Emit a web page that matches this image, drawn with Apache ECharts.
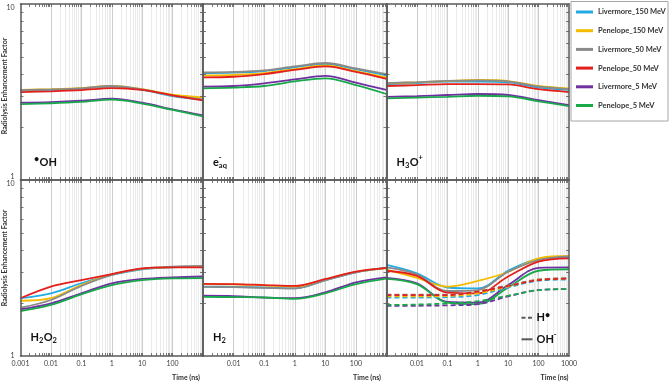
<!DOCTYPE html>
<html><head><meta charset="utf-8">
<script src="https://cdn.jsdelivr.net/npm/echarts@6/dist/echarts.min.js"></script>
<style>html,body{margin:0;padding:0;background:#fff}#c{width:669px;height:383px}</style>
</head><body><div id="c"></div>
<script>
// ---------- data ----------
const times = [0.001, 0.01, 0.1, 1, 10, 100, 1000];
const seriesNames = ['Livermore_150 MeV', 'Penelope_150 MeV', 'Livermore_50 MeV', 'Penelope_50 MeV', 'Livermore_5 MeV', 'Penelope_5 MeV'];
const xTickLabels = ['0.001', '0.01', '0.1', '1', '10', '100', '1000'];
const yTickLabels = ['1', '10'];

// order of rows: Livermore_150, Penelope_150, Livermore_50, Penelope_50, Livermore_5, Penelope_5
const ohValues = [
  [3.22, 3.25, 3.31, 3.39, 3.25, 3.00, 2.85],
  [3.25, 3.28, 3.33, 3.42, 3.28, 3.05, 2.95],
  [3.24, 3.27, 3.32, 3.42, 3.27, 3.02, 2.87],
  [3.16, 3.19, 3.24, 3.33, 3.25, 3.03, 2.83],
  [2.75, 2.77, 2.82, 2.90, 2.75, 2.52, 2.33],
  [2.70, 2.73, 2.78, 2.86, 2.72, 2.50, 2.30]
];
const eaqValues = [
  [4.04, 4.07, 4.16, 4.37, 4.56, 4.25, 3.93],
  [3.93, 3.96, 4.05, 4.27, 4.48, 4.15, 3.83],
  [4.08, 4.11, 4.20, 4.42, 4.62, 4.30, 4.00],
  [3.83, 3.86, 4.00, 4.22, 4.42, 4.12, 3.76],
  [3.39, 3.42, 3.54, 3.73, 3.90, 3.57, 3.25],
  [3.32, 3.35, 3.42, 3.63, 3.78, 3.46, 3.08]
];
const h3oValues = [
  [3.51, 3.55, 3.62, 3.62, 3.59, 3.36, 3.25],
  [3.54, 3.59, 3.65, 3.70, 3.65, 3.42, 3.31],
  [3.55, 3.60, 3.66, 3.68, 3.63, 3.40, 3.28],
  [3.42, 3.46, 3.51, 3.51, 3.49, 3.28, 3.16],
  [2.97, 3.00, 3.04, 3.08, 3.04, 2.84, 2.66],
  [2.91, 2.94, 2.97, 3.01, 2.99, 2.80, 2.63]
];
const h2o2Values = [
  [2.13, 2.27, 2.59, 2.89, 3.11, 3.19, 3.22],
  [2.06, 2.13, 2.53, 2.91, 3.13, 3.20, 3.22],
  [1.88, 2.08, 2.50, 2.89, 3.13, 3.22, 3.25],
  [2.13, 2.48, 2.70, 2.92, 3.15, 3.19, 3.19],
  [1.84, 1.99, 2.27, 2.59, 2.74, 2.80, 2.83],
  [1.80, 1.95, 2.24, 2.53, 2.70, 2.76, 2.77]
];
const h2Values = [
  [2.48, 2.47, 2.45, 2.42, 2.70, 2.99, 3.18],
  [2.56, 2.55, 2.52, 2.48, 2.72, 3.01, 3.15],
  [2.47, 2.46, 2.44, 2.42, 2.69, 2.99, 3.17],
  [2.57, 2.56, 2.53, 2.50, 2.74, 3.02, 3.17],
  [2.20, 2.19, 2.15, 2.13, 2.30, 2.62, 2.80],
  [2.17, 2.16, 2.15, 2.11, 2.27, 2.56, 2.75]
];
const ohMinusValues = [
  [3.29, 2.95, 2.45, 2.42, 3.05, 3.56, 3.64],
  [3.10, 2.78, 2.48, 2.67, 3.00, 3.59, 3.70],
  [3.19, 2.91, 2.34, 2.37, 3.01, 3.51, 3.68],
  [3.05, 2.85, 2.29, 2.27, 2.83, 3.44, 3.59],
  [2.78, 2.59, 2.03, 2.01, 2.53, 3.17, 3.19],
  [2.74, 2.56, 2.01, 1.97, 2.45, 3.05, 3.11]
];
const hRadicalValues = [
  [2.15, 2.15, 2.16, 2.22, 2.45, 2.68, 2.72],
  [2.18, 2.18, 2.19, 2.27, 2.48, 2.72, 2.76],
  [2.23, 2.23, 2.23, 2.33, 2.52, 2.72, 2.77],
  [2.22, 2.22, 2.22, 2.32, 2.50, 2.70, 2.75],
  [1.93, 1.93, 1.94, 1.97, 2.18, 2.37, 2.40],
  [1.95, 1.96, 1.99, 2.05, 2.20, 2.37, 2.40]
];

// ---------- styling / layout ----------
const seriesColors = ['#22aae3', '#f4bc00', '#8a8a8a', '#e3201b', '#7030a0', '#19a94b'];
const FONT = 'Lato, "Liberation Sans", sans-serif';
const panelValues = [ohValues, eaqValues, h3oValues, h2o2Values, h2Values, ohMinusValues];
const colLeft = [20.5, 203, 386.5], colWidth = [182.5, 183.5, 182.5];
const rowTop = [4, 180], rowHeight = 176;
const AXIS_COLOR = '#595959';
const LINE_W = 1.8;

const xMinor = [];
for (let e = -3; e < 3; e++) for (let k = 2; k <= 9; k++) xMinor.push(+(k * Math.pow(10, e)).toPrecision(3));
const xMajorInner = times.slice(1, -1);
const yMinor = [2, 3, 4, 5, 6, 7, 8, 9];
const yLabelVals = [1, 10];
const xLabelRange = {3: [0, 5], 4: [1, 5], 5: [1, 6]};

const grids = [], xAxes = [], yAxes = [], series = [];
for (let p = 0; p < 6; p++) {
  const row = p < 3 ? 0 : 1, col = p % 3;
  grids.push({left: colLeft[col], top: rowTop[row], width: colWidth[col], height: rowHeight,
    containLabel: false, outerBoundsMode: 'none'});
  const lr = xLabelRange[p];
  const labelVals = lr ? times.slice(lr[0], lr[1] + 1) : [];
  const baseX = {
    type: 'log', logBase: 10, gridIndex: p, min: 0.001, max: 1000, z: 4,
    axisLine: {show: true, onZero: false, lineStyle: {color: AXIS_COLOR, width: 1.5}},
    axisTick: {show: true, inside: true, length: 3, customValues: xMinor.concat(xMajorInner),
      lineStyle: {color: AXIS_COLOR, width: 0.8}},
    splitLine: {show: false}
  };
  xAxes.push(Object.assign({}, baseX, {position: 'bottom',
    axisLabel: {show: !!lr, customValues: labelVals, margin: 4, fontSize: 7, color: '#404040', fontFamily: FONT,
      formatter: v => xTickLabels[Math.round(Math.log10(v)) + 3]}}));
  xAxes.push(Object.assign({}, baseX, {position: 'top', axisLabel: {show: false}}));
  const baseY = {
    type: 'log', logBase: 10, gridIndex: p, min: 1, max: 10, z: 4,
    axisLine: {show: true, onZero: false, lineStyle: {color: AXIS_COLOR, width: 1.5}},
    axisTick: {show: true, inside: true, length: 3, customValues: yMinor, lineStyle: {color: AXIS_COLOR, width: 0.8}},
    splitLine: {show: false}
  };
  yAxes.push(Object.assign({}, baseY, {position: 'left',
    axisLabel: {show: col === 0, customValues: yLabelVals, margin: 6, fontSize: 7, color: '#404040', fontFamily: FONT,
      verticalAlignMaxLabel: 'top', verticalAlignMinLabel: row === 0 ? 'bottom' : 'middle',
      formatter: v => (v > 5 ? yTickLabels[1] : yTickLabels[0])}}));
  yAxes.push(Object.assign({}, baseY, {position: 'right', axisLabel: {show: false}}));

  // gridlines (vertical, at log minor and major positions)
  const minorStyle = {color: '#ebebeb', width: 1, type: 'solid', opacity: 1};
  const majorStyle = {color: '#cdcdcd', width: 1, type: 'solid', opacity: 1};
  series.push({
    type: 'line', xAxisIndex: 2 * p, yAxisIndex: 2 * p, data: [], silent: true, z: 1,
    markLine: {silent: true, z: 1, symbol: ['none', 'none'], label: {show: false}, animation: false,
      lineStyle: minorStyle,
      emphasis: {disabled: true, lineStyle: minorStyle},
      data: xMinor.map(v => ({xAxis: v, lineStyle: minorStyle}))
        .concat(xMajorInner.map(v => ({xAxis: v, lineStyle: majorStyle})))}
  });
  const vals = panelValues[p];
  for (let s = 0; s < 6; s++) {
    series.push({
      type: 'line', name: seriesNames[s], xAxisIndex: 2 * p, yAxisIndex: 2 * p,
      data: times.map((t, i) => [t, vals[s][i]]),
      smooth: 0.35, showSymbol: false, symbol: 'none', silent: true, z: 3,
      lineStyle: {color: seriesColors[s], width: LINE_W}, itemStyle: {color: seriesColors[s]}
    });
  }
}
// dashed H radical series in panel 6
for (let s = 0; s < 6; s++) {
  series.push({
    type: 'line', name: seriesNames[s], xAxisIndex: 10, yAxisIndex: 10,
    data: times.map((t, i) => [t, hRadicalValues[s][i]]),
    smooth: 0.35, showSymbol: false, symbol: 'none', silent: true, z: 3,
    lineStyle: {color: seriesColors[s], width: LINE_W, type: [5, 3]}, itemStyle: {color: seriesColors[s]}
  });
}

// ---------- panel labels with sub/superscripts ----------
const mctx = document.createElement('canvas').getContext('2d');
function textW(t, font) { mctx.font = font; return mctx.measureText(t).width; }
const partFont = {m: 'bold 11px ' + FONT, sub: 'bold 7.5px ' + FONT, sup: 'bold 7.5px ' + FONT, dot: 'bold 9px ' + FONT};
const partDy = {m: 0, sub: 4, sup: -4.5, dot: -3};
function formula(x, cy, parts) {
  const els = [];
  let cx = x;
  parts.forEach(pt => {
    const font = partFont[pt[0]];
    els.push({type: 'text', x: cx, y: cy + partDy[pt[0]], silent: true, z: 10,
      style: {text: pt[1], font: font, fill: '#111', align: 'left', verticalAlign: 'middle'}});
    if (pt[2] !== 'stack') cx += textW(pt[1], font) + (pt[0] === 'm' ? 0 : 0.4);
  });
  return els;
}
let graphics = [];
graphics = graphics.concat(
  formula(34, 162, [['dot', '•'], ['m', 'OH']]),
  formula(213, 162, [['m', 'e'], ['sup', '-', 'stack'], ['sub', 'aq']]),
  formula(396.5, 162, [['m', 'H'], ['sub', '3'], ['m', 'O'], ['sup', '+']]),
  formula(30.5, 337, [['m', 'H'], ['sub', '2'], ['m', 'O'], ['sub', '2']]),
  formula(213, 337, [['m', 'H'], ['sub', '2']]),
  formula(536.5, 317.7, [['m', 'H'], ['dot', '•']]),
  formula(536.5, 339.3, [['m', 'OH'], ['sup', '-']])
);
const smallBold = 'bold 7px ' + FONT;
graphics = graphics.concat([
  {type: 'line', silent: true, z: 10, shape: {x1: 521.5, y1: 317.7, x2: 532.5, y2: 317.7},
    style: {stroke: AXIS_COLOR, lineWidth: 2, lineDash: [4, 2.5]}},
  {type: 'line', silent: true, z: 10, shape: {x1: 521.5, y1: 339.3, x2: 532.5, y2: 339.3},
    style: {stroke: AXIS_COLOR, lineWidth: 2}},
  {type: 'text', x: 200, y: 377.7, silent: true, style: {text: 'Time (ns)', font: smallBold, fill: '#333', align: 'right', verticalAlign: 'middle'}},
  {type: 'text', x: 381, y: 377.7, silent: true, style: {text: 'Time (ns)', font: smallBold, fill: '#333', align: 'right', verticalAlign: 'middle'}},
  {type: 'text', x: 568.5, y: 377.7, silent: true, style: {text: 'Time (ns)', font: smallBold, fill: '#333', align: 'right', verticalAlign: 'middle'}},
  {type: 'text', x: 5, y: 86, rotation: Math.PI / 2, silent: true, style: {text: 'Radiolysis Enhancement Factor', font: smallBold, fill: '#333', align: 'center', verticalAlign: 'middle'}},
  {type: 'text', x: 5, y: 258, rotation: Math.PI / 2, silent: true, style: {text: 'Radiolysis Enhancement Factor', font: smallBold, fill: '#333', align: 'center', verticalAlign: 'middle'}},
  {type: 'rect', silent: true, z: 0, shape: {x: 571, y: 1.5, width: 97, height: 119.5},
    style: {fill: '#fff', stroke: '#a6a6a6', lineWidth: 1}}
]);

const option = {
  animation: false,
  backgroundColor: '#fff',
  grid: grids, xAxis: xAxes, yAxis: yAxes, series: series,
  legend: {
    data: seriesNames, orient: 'vertical', left: 576, top: 7, padding: 0,
    itemWidth: 17, itemHeight: 3, itemGap: 8.7, icon: 'rect', selectedMode: false, z: 20,
    textStyle: {fontSize: 7.5, fontWeight: 'bold', fontFamily: FONT, color: '#333', lineHeight: 10}
  },
  graphic: graphics
};
const chart = echarts.init(document.getElementById('c'), null, {renderer: 'canvas', width: 669, height: 383});
chart.setOption(option);
</script>
</body></html>
